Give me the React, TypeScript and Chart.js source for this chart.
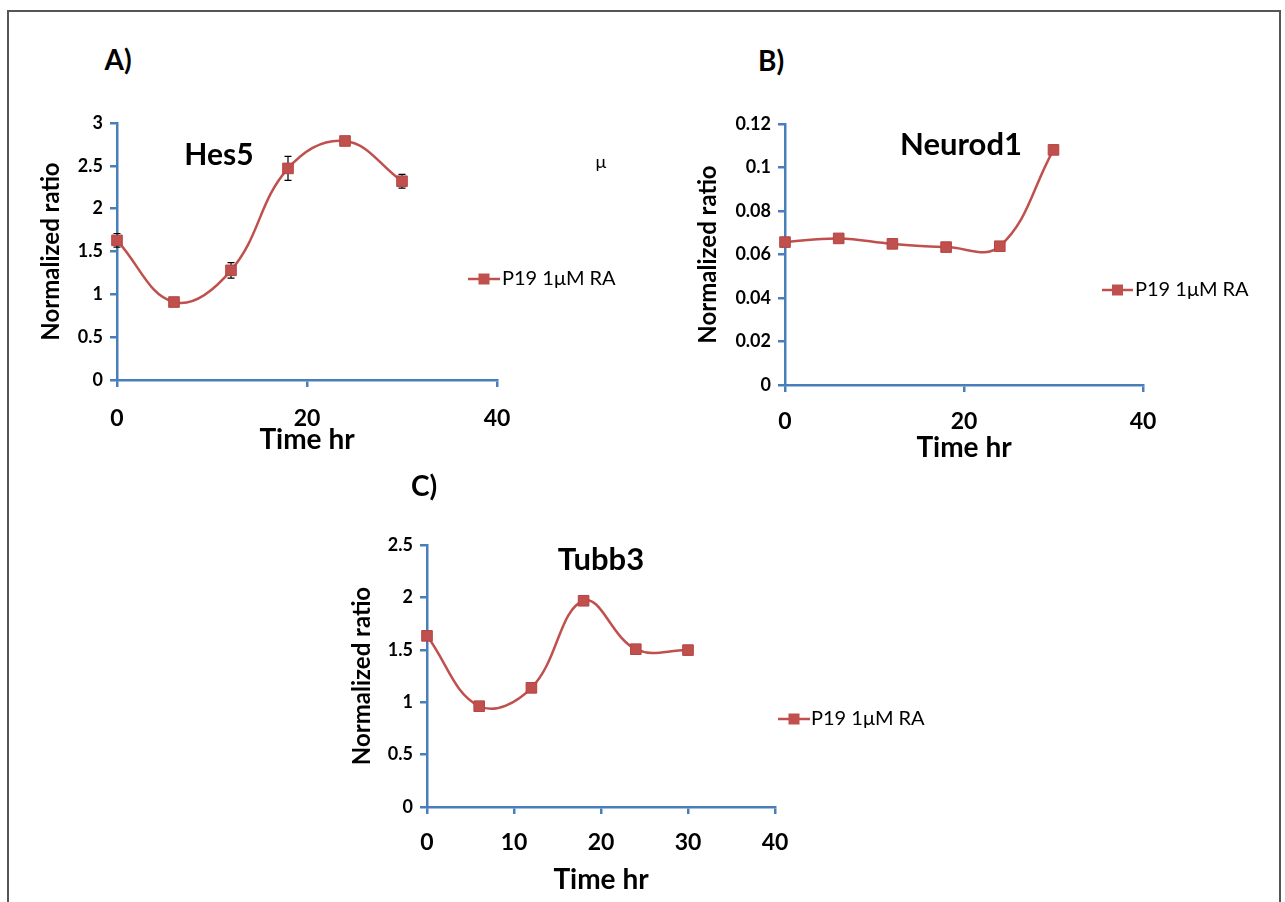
import React, { useEffect, useRef } from "react";
import { Chart, registerables } from "chart.js";
Chart.register(...registerables);

// ---- data ----
const timeHr = [0, 6, 12, 18, 24, 30];
const hes5 = [1.63, 0.91, 1.28, 2.47, 2.79, 2.32];
const hes5Err = [0.08, 0, 0.09, 0.14, 0, 0.08];
const neurod1 = [0.0657, 0.0674, 0.0649, 0.0634, 0.0638, 0.1081];
const tubb3 = [1.633, 0.962, 1.137, 1.968, 1.506, 1.497];
const seriesLabel = "P19 1μM RA";
const yTitle = "Normalized ratio";
const xTitle = "Time hr";

const FONT = 'Lato, "Open Sans", "DejaVu Sans", sans-serif';
const AXIS_BLUE = "#4a7ebb";
const RED = "#c0504d";

const fmt = (v: number) => String(Math.round(v * 10000) / 10000);

const errorBarPlugin = {
  id: "errorBars",
  beforeDatasetsDraw(chart: any) {
    const { ctx } = chart;
    const xs = chart.scales.x;
    const ys = chart.scales.y;
    chart.data.datasets.forEach((ds: any) => {
      if (!ds.errors) return;
      ctx.save();
      ctx.strokeStyle = "#000";
      ctx.lineWidth = 1.2;
      ds.data.forEach((p: any, i: number) => {
        const e = ds.errors[i];
        if (!e) return;
        const px = xs.getPixelForValue(p.x);
        const top = ys.getPixelForValue(p.y + e);
        const bot = ys.getPixelForValue(p.y - e);
        ctx.beginPath();
        ctx.moveTo(px, top);
        ctx.lineTo(px, bot);
        ctx.moveTo(px - 3.5, top);
        ctx.lineTo(px + 3.5, top);
        ctx.moveTo(px - 3.5, bot);
        ctx.lineTo(px + 3.5, bot);
        ctx.stroke();
      });
      ctx.restore();
    });
  },
};

const legendPlugin = {
  id: "excelLegend",
  afterDraw(chart: any, _args: any, opts: any) {
    const { ctx } = chart;
    const ds = chart.data.datasets[0];
    ctx.save();
    ctx.strokeStyle = ds.borderColor;
    ctx.lineWidth = 2.5;
    ctx.beginPath();
    ctx.moveTo(opts.x1, opts.y);
    ctx.lineTo(opts.x2, opts.y);
    ctx.stroke();
    const s = 11;
    const mid = (opts.x1 + opts.x2) / 2;
    ctx.fillStyle = ds.pointBackgroundColor;
    ctx.fillRect(mid - s / 2, opts.y - s / 2, s, s);
    ctx.font = `20px ${FONT}`;
    ctx.fillStyle = "#000";
    ctx.textBaseline = "middle";
    ctx.textAlign = "left";
    ctx.fillText(ds.label, opts.tx, opts.y);
    ctx.restore();
  },
};

type Spec = {
  canvas: { left: number; top: number; width: number; height: number };
  area: { left: number; top: number; right: number; bottom: number };
  values: number[];
  errors?: number[];
  yMax: number;
  yStep: number;
  xStep: number;
  xTickPad: number;
  xTitlePad: number;
  yTitlePad: number;
  legend: { x1: number; x2: number; tx: number; y: number };
};

function LineChart({ spec }: { spec: Spec }) {
  const ref = useRef<HTMLCanvasElement | null>(null);
  useEffect(() => {
    const c = spec.canvas;
    const a = spec.area;
    const chart = new Chart(ref.current as HTMLCanvasElement, {
      type: "line",
      data: {
        datasets: [
          {
            label: seriesLabel,
            data: timeHr.map((t, i) => ({ x: t, y: spec.values[i] })),
            errors: spec.errors,
            borderColor: RED,
            backgroundColor: RED,
            borderWidth: 2.5,
            pointStyle: "rect",
            pointRadius: 7.5,
            pointBackgroundColor: RED,
            pointBorderColor: "#b44542",
            pointBorderWidth: 1,
            tension: 0.4,
            fill: false,
            clip: false,
          } as any,
        ],
      },
      options: {
        responsive: false,
        animation: false,
        devicePixelRatio: 1,
        layout: {
          padding: {
            left: 0,
            top: a.top - c.top,
            right: c.left + c.width - a.right,
            bottom: 0,
          },
        },
        plugins: {
          legend: { display: false },
          tooltip: { enabled: false },
          excelLegend: {
            x1: spec.legend.x1 - c.left,
            x2: spec.legend.x2 - c.left,
            tx: spec.legend.tx - c.left,
            y: spec.legend.y - c.top,
          },
        } as any,
        scales: {
          x: {
            type: "linear",
            min: 0,
            max: 40,
            ticks: {
              stepSize: spec.xStep,
              color: "#000",
              font: { family: FONT, size: 23, weight: "bold" },
              padding: spec.xTickPad,
              maxRotation: 0,
              callback: (v: any) => fmt(Number(v)),
            },
            grid: {
              display: true,
              drawOnChartArea: false,
              drawTicks: true,
              tickLength: 7,
              color: AXIS_BLUE,
              lineWidth: 2.5,
            },
            border: { display: true, color: AXIS_BLUE, width: 2.5 },
            title: {
              display: true,
              text: xTitle,
              color: "#000",
              font: { family: FONT, size: 28, weight: "bold" },
              padding: { top: 0, bottom: spec.xTitlePad },
            },
            afterFit: (s: any) => {
              s.height = c.top + c.height - a.bottom;
            },
          },
          y: {
            type: "linear",
            min: 0,
            max: spec.yMax,
            ticks: {
              stepSize: spec.yStep,
              color: "#000",
              font: { family: FONT, size: 18, weight: "bold" },
              padding: 7,
              callback: (v: any) => fmt(Number(v)),
            },
            grid: {
              display: true,
              drawOnChartArea: false,
              drawTicks: true,
              tickLength: 7,
              color: AXIS_BLUE,
              lineWidth: 2.5,
            },
            border: { display: true, color: AXIS_BLUE, width: 2.5 },
            title: {
              display: true,
              text: yTitle,
              color: "#000",
              font: { family: FONT, size: 24, weight: "bold" },
              padding: { top: spec.yTitlePad, bottom: 0 },
            },
            afterFit: (s: any) => {
              s.width = a.left - c.left;
            },
          },
        },
      },
      plugins: [errorBarPlugin, legendPlugin],
    } as any);
    return () => chart.destroy();
  }, [spec]);
  const c = spec.canvas;
  return (
    <canvas
      ref={ref}
      width={c.width}
      height={c.height}
      style={{ position: "absolute", left: c.left, top: c.top, width: c.width, height: c.height }}
    />
  );
}

const specA: Spec = {
  canvas: { left: 0, top: 100, width: 640, height: 360 },
  area: { left: 117, top: 123, right: 497, bottom: 380 },
  values: hes5,
  errors: hes5Err,
  yMax: 3,
  yStep: 0.5,
  xStep: 20,
  xTickPad: 18,
  xTitlePad: 3,
  yTitlePad: 37,
  legend: { x1: 468, x2: 500, tx: 502, y: 279 },
};

const specB: Spec = {
  canvas: { left: 650, top: 100, width: 635, height: 370 },
  area: { left: 785, top: 124, right: 1143, bottom: 385 },
  values: neurod1,
  yMax: 0.12,
  yStep: 0.02,
  xStep: 20,
  xTickPad: 16,
  xTitlePad: 5,
  yTitlePad: 44,
  legend: { x1: 1102, x2: 1133, tx: 1135, y: 290 },
};

const specC: Spec = {
  canvas: { left: 300, top: 500, width: 660, height: 402 },
  area: { left: 427, top: 545, right: 775, bottom: 807 },
  values: tubb3,
  yMax: 2.5,
  yStep: 0.5,
  xStep: 10,
  xTickPad: 15,
  xTitlePad: 5,
  yTitlePad: 48,
  legend: { x1: 778, x2: 810, tx: 811, y: 719 },
};

function Label({ x, y, text, size, weight }: { x: number; y: number; text: string; size: number; weight: string }) {
  return (
    <div
      style={{
        position: "absolute",
        left: x,
        top: y,
        transform: "translate(-50%, -50%)",
        fontFamily: FONT,
        fontSize: size,
        fontWeight: weight as any,
        lineHeight: 1,
        whiteSpace: "nowrap",
        color: "#000",
      }}
    >
      {text}
    </div>
  );
}

export default function App() {
  return (
    <div
      style={{
        position: "absolute",
        left: 0,
        top: 0,
        width: 1285,
        height: 902,
        background: "#fff",
        overflow: "hidden",
      }}
    >
      <div
        style={{
          position: "absolute",
          left: 7,
          top: 10,
          width: 1274,
          height: 910,
          border: "2px solid #555",
          boxSizing: "border-box",
        }}
      />
      <LineChart spec={specA} />
      <LineChart spec={specB} />
      <LineChart spec={specC} />
      <Label x={118} y={59} text="A)" size={28} weight="bold" />
      <Label x={219} y={153} text="Hes5" size={30} weight="bold" />
      <Label x={601} y={161} text="μ" size={18} weight="normal" />
      <Label x={771} y={60} text="B)" size={28} weight="bold" />
      <Label x={961} y={143} text="Neurod1" size={31} weight="bold" />
      <Label x={424} y={485} text="C)" size={28} weight="bold" />
      <Label x={601} y={558} text="Tubb3" size={31} weight="bold" />
    </div>
  );
}
